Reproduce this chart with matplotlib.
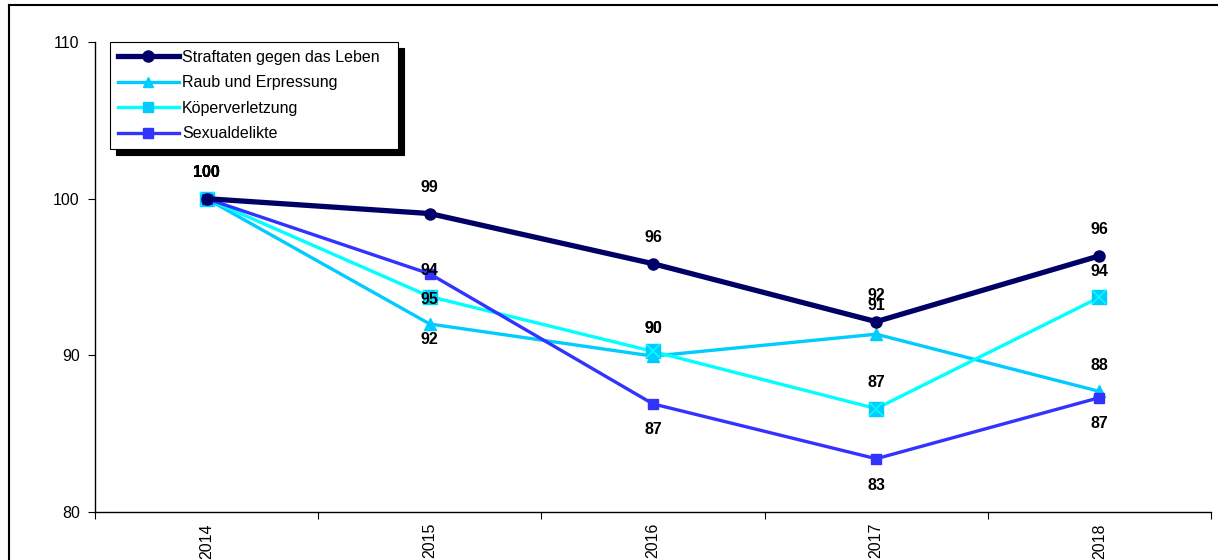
import matplotlib.pyplot as plt
from matplotlib.lines import Line2D

plt.rcParams['font.family'] = ['Liberation Sans', 'DejaVu Sans']

years = ['2014', '2015', '2016', '2017', '2018']
leben = [100, 99.05, 95.85, 92.15, 96.35]
raub = [100, 92.0, 89.95, 91.35, 87.7]
koerper = [100, 93.75, 90.25, 86.6, 93.7]
sexual = [100, 95.2, 86.9, 83.4, 87.3]

# label offsets in pixels (positive = above the point)
off_leben = [26, 26, 26, 26, 26]
off_raub = [26, -15, 28, 29, 26]
off_koerper = [26, 26, 23, 26, 26]
off_sexual = [26, -26, -26, -27, -26]

fig = plt.figure(figsize=(12.18, 5.6), dpi=100)
ax = fig.add_axes([95 / 1218, 48 / 560, 1116 / 1218, 470 / 560])

x = range(len(years))
ax.plot(x, raub, color='#00CCFF', lw=2.4, marker='^', ms=9, zorder=3)
ax.plot(x, koerper, color='#00FFFF', lw=2.4, marker='s', ms=10, mfc='#00CCFF', mec='#00CCFF', zorder=3)
ax.plot(x, koerper, ls='none', marker='x', ms=10, mec='#00FFFF', mew=1.2, zorder=3)
ax.plot(x, sexual, color='#3333FF', lw=2.4, marker='s', ms=6.5, zorder=3)
ax.plot(x, leben, color='#000066', lw=3.8, marker='o', ms=8, zorder=4)

for vals, offs in [(leben, off_leben), (raub, off_raub), (koerper, off_koerper), (sexual, off_sexual)]:
    for i, (v, o) in enumerate(zip(vals, offs)):
        ax.annotate(f'{v:.0f}', (i, v), xytext=(0, o * 0.72), textcoords='offset points',
                    ha='center', va='center', fontsize=11.5, fontweight='bold', zorder=5)

ax.set_xlim(-0.5, 4.5)
ax.set_ylim(80, 110)
ax.set_yticks([80, 90, 100, 110])
ax.tick_params(axis='y', labelsize=11.5, length=5, direction='out', width=0.8, pad=6)
ax.set_xticks([i + 0.5 for i in range(-1, 5)])
ax.set_xticklabels([])
ax.tick_params(axis='x', length=5, direction='out', width=0.8)
ax.set_xticks(list(x), minor=True)
ax.set_xticklabels(years, minor=True, rotation=90, fontsize=11.5)
ax.tick_params(axis='x', which='minor', length=0, pad=8)
for s in ['top', 'right']:
    ax.spines[s].set_visible(False)
for s in ['left', 'bottom']:
    ax.spines[s].set_linewidth(1.0)

handles = [
    Line2D([], [], color='#000066', lw=3.8, marker='o', ms=8),
    Line2D([], [], color='#00CCFF', lw=2.4, marker='^', ms=7),
    Line2D([], [], color='#00FFFF', lw=2.4, marker='s', ms=7, mfc='#00CCFF', mec='#00CCFF'),
    Line2D([], [], color='#3333FF', lw=2.4, marker='s', ms=6.5),
]
leg = fig.legend(handles, ['Straftaten gegen das Leben', 'Raub und Erpressung', 'Köperverletzung', 'Sexualdelikte'],
                 loc='upper left', bbox_to_anchor=(110 / 1218, 1 - 149 / 560, 288 / 1218, 107 / 560),
                 mode='expand', borderaxespad=0,
                 fancybox=False, edgecolor='black', fontsize=11.5, handlelength=3.8, labelspacing=0.65,
                 handletextpad=0.2, borderpad=0.5,
                 shadow={'ox': 4.5, 'oy': -4.5, 'facecolor': 'black', 'edgecolor': 'black', 'alpha': 1})
leg.get_frame().set_linewidth(0.8)

fig.add_artist(Line2D([9 / 1218, 9 / 1218], [0, 1 - 5 / 560], color='black', lw=1.5, transform=fig.transFigure))
fig.add_artist(Line2D([9 / 1218, 1], [1 - 5 / 560, 1 - 5 / 560], color='black', lw=1.5, transform=fig.transFigure))

fig.savefig('out.png', dpi=100)
